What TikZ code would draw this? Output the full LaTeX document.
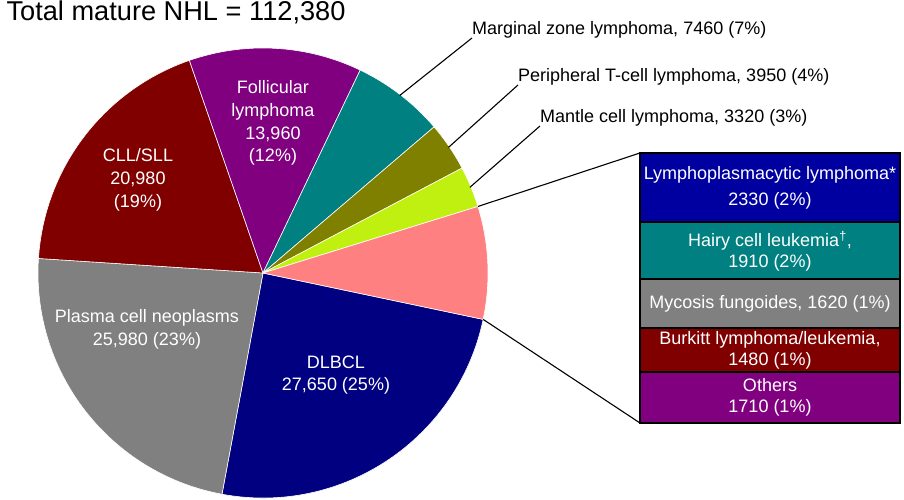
\documentclass[tikz,border=0pt]{standalone}
\usepackage{fontspec}
\setmainfont{Liberation Sans}
\usepackage{xcolor}
\usetikzlibrary{positioning}

\definecolor{dlbclblue}{HTML}{000080}
\definecolor{plasmagray}{HTML}{808080}
\definecolor{cllred}{HTML}{800000}
\definecolor{flviolet}{HTML}{800080}
\definecolor{mzlteal}{HTML}{008080}
\definecolor{ptclolive}{HTML}{808000}
\definecolor{mcllime}{HTML}{C0F010}
\definecolor{othpink}{HTML}{FF8080}
\definecolor{lplblue}{HTML}{0000A0}

\begin{document}
\begin{tikzpicture}[
    x = 1pt, y = 1pt,
    node distance = 0pt,
    slice/.style = {draw=white, line width=0.6pt},
    inlbl/.style = {text=white, align=center, font=\fontsize{18}{22.7}\selectfont},
    outlbl/.style = {anchor=south west, inner sep=0pt, font=\fontsize{18}{22}\selectfont},
    lead/.style = {draw=black, line width=1.1pt},
    seg/.style = {draw=black, line width=2pt, minimum width=260pt, outer sep=0pt,
                  inner sep=1pt, text=white, align=center, font=\fontsize{18}{21}\selectfont}
]
\useasboundingbox (-263,-227) rectangle (641,273);

\node[anchor=base west, font=\fontsize{27.2}{30}\selectfont] (title) at (-260,252.5) {Total mature NHL = 112,380};

\fill[slice, fill=dlbclblue] (0,0) -- (-11.9:225) arc[start angle=-11.9, end angle=-100.5, radius=225] -- cycle;
\fill[slice, fill=plasmagray] (0,0) -- (-100.5:225) arc[start angle=-100.5, end angle=-183.7, radius=225] -- cycle;
\fill[slice, fill=cllred] (0,0) -- (176.3:225) arc[start angle=176.3, end angle=109.1, radius=225] -- cycle;
\fill[slice, fill=flviolet] (0,0) -- (109.1:225) arc[start angle=109.1, end angle=64.4, radius=225] -- cycle;
\fill[slice, fill=mzlteal] (0,0) -- (64.4:225) arc[start angle=64.4, end angle=40.5, radius=225] -- cycle;
\fill[slice, fill=ptclolive] (0,0) -- (40.5:225) arc[start angle=40.5, end angle=27.8, radius=225] -- cycle;
\fill[slice, fill=mcllime] (0,0) -- (27.8:225) arc[start angle=27.8, end angle=17.2, radius=225] -- cycle;
\fill[slice, fill=othpink] (0,0) -- (17.2:225) arc[start angle=17.2, end angle=-11.9, radius=225] -- cycle;

\node[inlbl] (dlbcl) at (73,-102) {DLBCL\\27,650 (25\%)};
\node[inlbl] (plasma) at (-116,-56.5) {Plasma cell neoplasms\\25,980 (23\%)};
\node[inlbl] (cll) at (-125,93) {CLL/SLL\\20,980\\(19\%)};
\node[inlbl] (fl) at (10,150) {Follicular\\lymphoma\\13,960\\(12\%)};

\coordinate (mzlrim) at (52.4:224);
\coordinate (ptclrim) at (34.1:224);
\coordinate (mclrim) at (22.5:224);
\coordinate (othtop) at (17.2:225);
\coordinate (othbot) at (-11.9:225);

\node[outlbl] (mzl) at (209,235) {Marginal zone lymphoma, 7460 (7\%)};
\node[outlbl] (ptcl) at (255,188) {Peripheral T-cell lymphoma, 3950 (4\%)};
\node[outlbl] (mcl) at (277,147) {Mantle cell lymphoma, 3320 (3\%)};

\draw[lead] (mzlrim) -- (mzl.south west);
\draw[lead] (ptclrim) -- (ptcl.south west);
\draw[lead] (mclrim) -- (mcl.south west);

\node[seg, fill=lplblue, minimum height=69.5pt, anchor=north west, font=\fontsize{18}{26}\selectfont] (lpl) at (377,120) {Lymphoplasmacytic lymphoma*\\2330 (2\%)};
\node[seg, fill=mzlteal, minimum height=57pt, below=of lpl] (hcl) {Hairy cell leukemia\textsuperscript{\textdagger},\\1910 (2\%)};
\node[seg, fill=plasmagray, minimum height=48.3pt, below=of hcl] (mf) {Mycosis fungoides, 1620 (1\%)};
\node[seg, fill=cllred, minimum height=44.2pt, below=of mf] (bl) {Burkitt lymphoma/leukemia,\\1480 (1\%)};
\node[seg, fill=flviolet, minimum height=51pt, below=of bl] (oth) {Others\\1710 (1\%)};

\draw[lead] (othtop) -- (lpl.north west);
\draw[lead] (othbot) -- (oth.south west);

\end{tikzpicture}
\end{document}
